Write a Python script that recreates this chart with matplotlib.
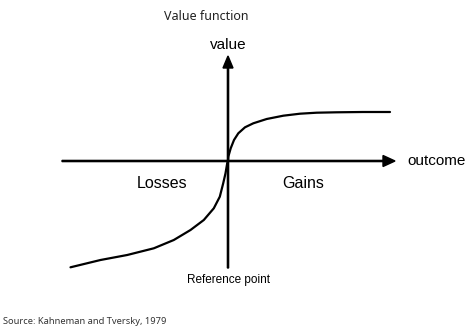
import numpy as np
import matplotlib.pyplot as plt

# curve, origin at the reference point
gain_x = [0, 0.3, 2.7, 6, 10.3, 17, 25.3, 38.7, 55.3, 72, 88.7, 108.7, 135, 162]
gain_y = [0, 4.3, 12.7, 21, 27.7, 33.7, 37.7, 42, 45.3, 47.3, 48.3, 48.7, 49, 49]
loss_x = [0, -0.8, -2.5, -4.8, -8.2, -14.2, -24.2, -37.5, -54.2, -74.2, -100.8, -127.5, -157.5]
loss_y = [0, -2.3, -12.3, -22.3, -35.7, -47.3, -59, -69, -79, -87.3, -94, -99, -106.3]

fig = plt.figure(figsize=(4.74, 3.32), dpi=100)
ax = fig.add_axes([0, 0, 1, 1])
ax.set_xlim(-228, 246)
ax.set_ylim(-171, 161)
ax.axis('off')

# axes with arrow heads
ax.arrow(-166, 0, 333, 0, width=1.2, head_width=11, head_length=12,
         length_includes_head=True, color='black')
ax.arrow(0, -107, 0, 212, width=1.2, head_width=10, head_length=12,
         length_includes_head=True, color='black')

ax.plot(gain_x, gain_y, color='black', lw=1.6, solid_capstyle='round',
        solid_joinstyle='round')
ax.plot(loss_x, loss_y, color='black', lw=1.6, solid_capstyle='round',
        solid_joinstyle='round')

lab = dict(family='Liberation Sans', color='black')
ax.text(0, 116, 'value', ha='center', va='center', fontsize=11, **lab)
ax.text(179, 0, 'outcome', ha='left', va='center', fontsize=11, **lab)
ax.text(-66, -23, 'Losses', ha='center', va='center', fontsize=11.5, **lab)
ax.text(75, -23, 'Gains', ha='center', va='center', fontsize=11.5, **lab)
ax.text(1, -119, 'Reference point', ha='center', va='center', fontsize=8.5, **lab)

ax.text(-22, 145, 'Value function', ha='center', va='center',
        fontsize=9, family='Noto Sans', color='#222222')
ax.text(-225, -161, 'Source: Kahneman and Tversky, 1979', ha='left', va='center',
        fontsize=6.7, family='Noto Sans', color='#333333')

fig.savefig('out.png', dpi=100)
